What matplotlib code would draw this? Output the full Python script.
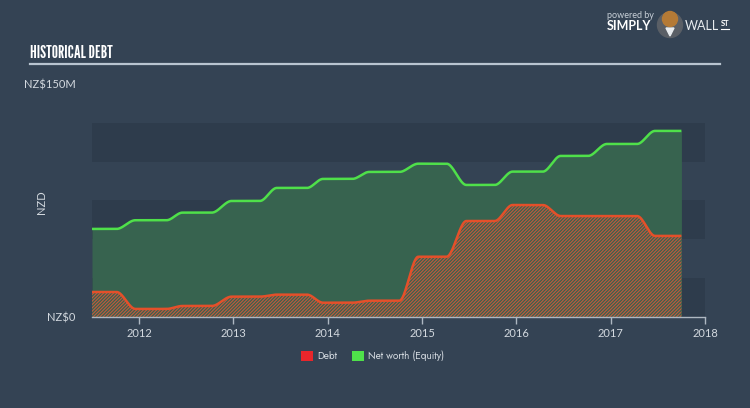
import numpy as np
import matplotlib
matplotlib.use("Agg")
import matplotlib.pyplot as plt
from matplotlib.patches import Rectangle, Ellipse, Polygon

# ---------------- data (decimal years, NZ$ millions) ----------------
dates = [2011.50, 2011.76, 2011.96, 2012.29, 2012.46, 2012.77, 2012.98, 2013.28,
         2013.46, 2013.78, 2013.95, 2014.26, 2014.44, 2014.76, 2014.96, 2015.26,
         2015.47, 2015.77, 2015.96, 2016.28, 2016.47, 2016.76, 2016.96, 2017.28,
         2017.47, 2017.75]
equity = [56.7, 56.7, 62.3, 62.3, 67.2, 67.2, 74.7, 74.7,
          83.1, 83.1, 88.9, 88.9, 93.4, 93.4, 98.7, 98.7,
          85.0, 85.0, 93.6, 93.6, 103.7, 103.7, 111.4, 111.4,
          119.8, 119.8]
debt = [16.1, 16.1, 5.2, 5.2, 7.1, 7.1, 13.1, 13.1,
        14.4, 14.4, 9.2, 9.2, 10.5, 10.5, 38.8, 38.8,
        61.8, 61.8, 72.1, 72.1, 65.0, 65.0, 65.0, 65.0,
        52.2, 52.2]
year_ticks = [2012, 2013, 2014, 2015, 2016, 2017, 2018]
y_ticks = [0, 150]
y_ticklabels = ["NZ$0", "NZ$150M"]
legend_labels = ["Debt", "Net worth (Equity)"]


def pchip(x, y, xs):
    x = np.asarray(x, float); y = np.asarray(y, float)
    h = np.diff(x); d = np.diff(y) / h
    m = np.zeros_like(y)
    for k in range(1, len(x) - 1):
        if d[k - 1] * d[k] > 0:
            w1 = 2 * h[k] + h[k - 1]; w2 = h[k] + 2 * h[k - 1]
            m[k] = (w1 + w2) / (w1 / d[k - 1] + w2 / d[k])
    out = np.empty_like(xs)
    idx = np.clip(np.searchsorted(x, xs) - 1, 0, len(x) - 2)
    for i, xv in enumerate(xs):
        k = idx[i]; t = (xv - x[k]) / h[k]
        h00 = 2 * t**3 - 3 * t**2 + 1; h10 = t**3 - 2 * t**2 + t
        h01 = -2 * t**3 + 3 * t**2; h11 = t**3 - t**2
        out[i] = h00 * y[k] + h10 * h[k] * m[k] + h01 * y[k + 1] + h11 * h[k] * m[k + 1]
    return out


xs = np.linspace(dates[0], dates[-1], 1200)
eq_s = pchip(dates, equity, xs)
de_s = pchip(dates, debt, xs)

BG = "#344354"
BAND = "#2e3c4c"
TXT = "#d3d9df"
EQ_FILL = "#37634f"
EQ_LINE = "#4fe04a"
DEBT_LINE = "#e4502a"
HATCH_C = "#c4583c"

TICKF = ["Lato", "DejaVu Sans"]
LEGF = ["Jost", "Lato", "DejaVu Sans"]
TITLEF = ["League Gothic", "Oswald", "DejaVu Sans"]

plt.rcParams["hatch.linewidth"] = 0.8
plt.rcParams["hatch.color"] = HATCH_C

W, H = 750, 408
fig = plt.figure(figsize=(W / 100, H / 100), dpi=100, facecolor=BG)


def fx(px):
    return px / W


def fy(py):
    return 1 - py / H


ax = fig.add_axes([fx(92), fy(317), fx(705) - fx(92), fy(84) - fy(317)])
ax.set_facecolor("none")
ax.set_xlim(2011.5, 2018.0)
ax.set_ylim(0, 150)

for lo, hi in [(0, 25), (50, 75), (100, 125)]:
    ax.axhspan(lo, hi, color=BAND, lw=0, zorder=0)

ax.fill_between(xs, 0, eq_s, color=EQ_FILL, lw=0, zorder=1)
ax.fill_between(xs, 0, de_s, facecolor=EQ_FILL, edgecolor=HATCH_C,
                hatch="//////////", lw=0, zorder=2)
ax.plot(xs, eq_s, color=EQ_LINE, lw=1.8, zorder=4, solid_capstyle="butt")
ax.plot(xs, de_s, color=DEBT_LINE, lw=1.8, zorder=4, solid_capstyle="butt")

for s in ["top", "right", "left"]:
    ax.spines[s].set_visible(False)
ax.spines["bottom"].set_color("#aeb8c2")
ax.spines["bottom"].set_linewidth(1.0)
ax.set_xticks(year_ticks)
ax.set_xticklabels([str(y) for y in year_ticks], color=TXT, fontsize=8,
                   family=TICKF)
ax.tick_params(axis="x", colors="#aeb8c2", length=5, width=1, pad=3,
               labelcolor=TXT)
ax.set_yticks(y_ticks)
ax.set_yticklabels(y_ticklabels, color=TXT, fontsize=8, family=TICKF)
ax.tick_params(axis="y", length=0, pad=12, labelcolor=TXT)

fig.text(fx(41), fy(202), "NZD", rotation=90, color=TXT, fontsize=8,
         family=TICKF, ha="center", va="center")

# title + rule
fig.text(fx(30), fy(53), "HISTORICAL DEBT", color="white", fontsize=12.5,
         family=TITLEF, ha="left", va="center")
fig.add_artist(plt.Line2D([fx(30), fx(720)], [fy(64), fy(64)], color="#b8c4d0",
                          lw=1.6))

# logo
fig.text(fx(607), fy(15), "powered by", color="#c8d0d8", fontsize=6.5,
         family=TICKF, ha="left", va="center")
fig.text(fx(607), fy(26), "SIMPLY", color="white", fontsize=9,
         fontweight="bold", family=TICKF, ha="left", va="center")
fig.add_artist(Ellipse((fx(670), fy(25)), fx(25), 25 / H,
                       transform=fig.transFigure, color="#5a5f66", zorder=5))
fig.add_artist(Polygon([(fx(666), fy(28)), (fx(674), fy(28)), (fx(670), fy(36))],
                       closed=True, transform=fig.transFigure,
                       color="#e8ecef", zorder=6))
fig.add_artist(Ellipse((fx(670), fy(19)), fx(15), 15 / H,
                       transform=fig.transFigure, color="#b47a36", zorder=7))
fig.text(fx(685), fy(26), "WALL", color="#e8ecef", fontsize=9,
         family=TICKF, ha="left", va="center")
fig.text(fx(721), fy(24), "ST", color="white", fontsize=5.5, fontweight="bold",
         family=TICKF, ha="left", va="center")
fig.add_artist(plt.Line2D([fx(721), fx(729)], [fy(29), fy(29)], color="white",
                          lw=0.8))

# legend
fig.add_artist(Rectangle((fx(301), fy(361)), fx(12), 10 / H,
                         transform=fig.transFigure, color="#e8262b", lw=0))
fig.text(fx(317), fy(356), legend_labels[0], color=TXT, fontsize=7.2,
         family=LEGF, ha="left", va="center")
fig.add_artist(Rectangle((fx(352), fy(361)), fx(12), 10 / H,
                         transform=fig.transFigure, color="#4fe04a", lw=0))
fig.text(fx(368), fy(356), legend_labels[1], color=TXT, fontsize=7.2,
         family=LEGF, ha="left", va="center")

fig.savefig("out.png", dpi=100, facecolor=BG)
